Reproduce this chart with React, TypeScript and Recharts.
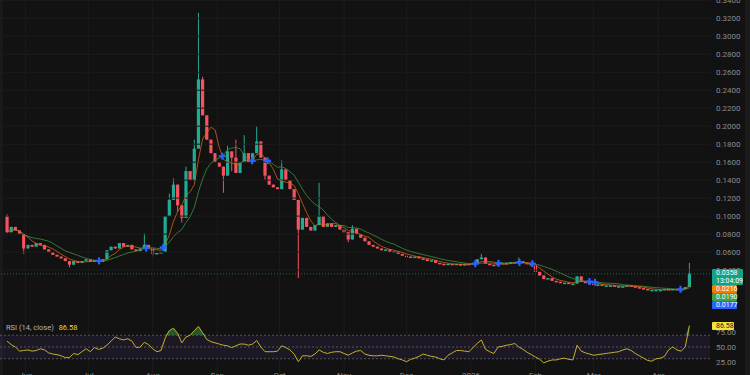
import React from 'react';
import { ComposedChart, Bar, Line, XAxis, YAxis, ReferenceLine, ReferenceArea, Area, Scatter } from 'recharts';

// ---- data ----
const monthDays = [10, 40, 71, 102, 132, 163, 193, 224, 255, 283, 314];
const monthLabels = ['Jun', 'Jul', 'Aug', 'Sep', 'Oct', 'Nov', 'Dec', '2026', 'Feb', 'Mar', 'Apr'];
const priceTicks = [0.04, 0.06, 0.08, 0.1, 0.12, 0.14, 0.16, 0.18, 0.2, 0.22, 0.24, 0.26, 0.28, 0.3, 0.32, 0.34];
const rsiTicks = [25, 50, 75];
const rsiLevels = [70, 50, 30];

const firstOpen = 0.1;
const closes = [
  0.082, 0.088, 0.084, 0.080, 0.064, 0.068, 0.066, 0.070, 0.068, 0.063,
  0.060, 0.057, 0.055, 0.053, 0.050, 0.046, 0.050, 0.048, 0.050, 0.052,
  0.049, 0.051, 0.049, 0.052, 0.062, 0.066, 0.064, 0.070, 0.066, 0.068,
  0.063, 0.061, 0.064, 0.068, 0.064, 0.058, 0.059, 0.060, 0.100, 0.118,
  0.135, 0.112, 0.098, 0.150, 0.140, 0.175, 0.252, 0.212, 0.185, 0.170,
  0.160, 0.155, 0.145, 0.172, 0.165, 0.148, 0.160, 0.170, 0.160, 0.170,
  0.183, 0.165, 0.145, 0.135, 0.132, 0.130, 0.152, 0.140, 0.130, 0.118,
  0.085, 0.098, 0.088, 0.084, 0.090, 0.100, 0.088, 0.092, 0.088, 0.090,
  0.085, 0.082, 0.074, 0.086, 0.080, 0.076, 0.072, 0.068, 0.066, 0.064,
  0.062, 0.063, 0.060, 0.061, 0.058, 0.056, 0.055, 0.054, 0.055, 0.053,
  0.052, 0.050, 0.051, 0.048, 0.047, 0.046, 0.047, 0.046, 0.047, 0.045,
  0.047, 0.046, 0.048, 0.052, 0.054, 0.047, 0.046, 0.045, 0.047, 0.048,
  0.047, 0.049, 0.048, 0.050, 0.048, 0.047, 0.045, 0.038, 0.034, 0.030,
  0.031, 0.028, 0.027, 0.026, 0.026, 0.025, 0.025, 0.033, 0.027, 0.026,
  0.025, 0.024, 0.024, 0.023, 0.023, 0.023, 0.022, 0.022, 0.022, 0.023,
  0.022, 0.021, 0.020, 0.019, 0.018, 0.018, 0.018, 0.018, 0.019, 0.018,
  0.019, 0.018, 0.019, 0.021, 0.0358,
];
const wickHighs: [number, number][] = [
  [0, 0.102], [33, 0.081], [39, 0.125], [40, 0.142], [43, 0.155], [45, 0.185], [46, 0.326],
  [47, 0.255], [48, 0.21], [53, 0.178], [55, 0.185], [57, 0.19], [60, 0.2], [66, 0.162],
  [75, 0.137], [83, 0.09], [114, 0.058], [123, 0.054], [164, 0.048],
];
const wickLows: [number, number][] = [
  [4, 0.058], [15, 0.043], [35, 0.055], [41, 0.105], [42, 0.093], [52, 0.126], [54, 0.15],
  [62, 0.14], [70, 0.031], [82, 0.071],
];
const rsiValues = [
  60, 54, 50, 43, 44, 45, 43, 44, 47, 45,
  40, 38, 37, 35, 32, 32, 39, 37, 42, 47,
  42, 49, 46, 48, 53, 60, 67, 64, 62, 64,
  60, 49, 50, 58, 54, 47, 42, 44, 65, 78,
  82, 73, 57, 67, 70, 78, 85, 74, 63, 59,
  57, 55, 53, 52, 49, 52, 55, 55, 53, 55,
  61, 50, 42, 42, 42, 43, 52, 49, 45, 38,
  25, 35, 35, 34, 38, 45, 41, 39, 41, 42,
  42, 39, 36, 40, 43, 44, 38, 36, 35, 35,
  36, 35, 34, 33, 30, 28, 25, 29, 31, 34,
  38, 36, 34, 33, 30, 28, 36, 40, 44, 44,
  43, 42, 49, 56, 62, 46, 42, 39, 50, 51,
  53, 54, 56, 50, 46, 41, 37, 33, 29, 23,
  26, 28, 28, 30, 31, 29, 28, 53, 43, 40,
  38, 36, 37, 38, 39, 40, 41, 42, 45, 47,
  44, 39, 35, 31, 27, 26, 30, 31, 34, 45,
  50, 45, 43, 50, 86.58,
];
const FAST = 5;
const SLOW = 11;

// ---- derived table ----
const highMap = new Map(wickHighs);
const lowMap = new Map(wickLows);
const sma = (i: number, n: number) => {
  const s = closes.slice(Math.max(0, i - n + 1), i + 1);
  return s.reduce((a, b) => a + b, 0) / s.length;
};
const data = closes.map((c, i) => {
  const open = i === 0 ? firstOpen : closes[i - 1];
  const high = Math.max(open, c, highMap.get(i) ?? 0);
  const low = Math.min(open, c, lowMap.get(i) ?? Infinity);
  return {
    day: 1 + 2 * i,
    open, close: c, high, low,
    range: [low, high],
    maFast: sma(i, FAST),
    maSlow: sma(i, SLOW),
    rsi: rsiValues[i],
    rsiUp: Math.max(rsiValues[i], 70),
  };
});
const crosses: { day: number; v: number }[] = [];
for (let i = 1; i < data.length; i++) {
  const d0 = data[i - 1].maFast - data[i - 1].maSlow;
  const d1 = data[i].maFast - data[i].maSlow;
  if (d0 * d1 < 0) {
    const t = d0 / (d0 - d1);
    crosses.push({
      day: data[i - 1].day + t * (data[i].day - data[i - 1].day),
      v: data[i - 1].maFast + t * (data[i].maFast - data[i - 1].maFast),
    });
  }
}
const lastClose = closes[closes.length - 1];

const UP = '#22ab94';
const DOWN = '#f7525f';
const BG = '#121212';
const GRID = '#1c1c1c';
const TXT = '#8b8b8b';
const FONT = 'Roboto, "DejaVu Sans", sans-serif';
const X_DOMAIN: [number, number] = [-2.4, 338.9];
const BODY_W = 3.2;

const Candle = (props: any) => {
  const { x, y, width, height, payload } = props;
  if (!payload || x == null || y == null) return null;
  const { open, close, high, low } = payload;
  const top = Math.min(y, y + height);
  const h = Math.abs(height);
  const rng = high - low;
  const pos = (v: number) => (rng > 0 ? top + ((high - v) / rng) * h : top);
  const color = close >= open ? UP : DOWN;
  const bTop = pos(Math.max(open, close));
  const bBot = pos(Math.min(open, close));
  const cx = x + (width || 0) / 2;
  return (
    <g>
      <line x1={cx} x2={cx} y1={top} y2={top + Math.max(h, 1)} stroke={color} strokeWidth={1} />
      <rect x={cx - BODY_W / 2} y={bTop} width={BODY_W} height={Math.max(1.5, bBot - bTop)} fill={color} />
    </g>
  );
};

const CrossMark = (props: any) => {
  const { cx, cy } = props;
  if (cx == null || cy == null) return null;
  return (
    <g stroke="#2962ff" strokeWidth={2.2}>
      <line x1={cx - 3.5} x2={cx + 3.5} y1={cy} y2={cy} />
      <line x1={cx} x2={cx} y1={cy - 3.5} y2={cy + 3.5} />
    </g>
  );
};

const PriceTick = (p: any) => (
  <text x={716} y={p.y + 3} fill={TXT} fontSize={8} fontFamily={FONT}>
    {Number(p.payload.value).toFixed(4)}
  </text>
);
const RsiTick = (p: any) => (
  <text x={716} y={p.y + 3} fill={TXT} fontSize={8} fontFamily={FONT}>
    {Number(p.payload.value).toFixed(2)}
  </text>
);
const MonthTick = (p: any) => {
  const idx = monthDays.indexOf(p.payload.value);
  return (
    <text x={p.x} y={60} fill={TXT} fontSize={8} fontFamily={FONT} textAnchor="middle">
      {monthLabels[idx] ?? ''}
    </text>
  );
};

const badge = (top: number, bg: string, color = '#fff', width = 25, height = 8): React.CSSProperties => ({
  position: 'absolute', left: 712, top, width, height, background: bg, color,
  fontFamily: FONT, fontSize: 7, lineHeight: `${height}px`, paddingLeft: 4, boxSizing: 'border-box',
  borderRadius: 1, whiteSpace: 'nowrap',
});

export default function App() {
  return (
    <div style={{ position: 'fixed', left: 0, top: 0, width: 750, height: 375, background: BG, overflow: 'hidden' }}>
      <div style={{ position: 'absolute', left: 0, top: 0, width: 3, height: 375, background: '#1a1a1a' }} />
      <div style={{ position: 'absolute', left: 745, top: 0, width: 5, height: 375, background: '#1a1a1a' }} />
      <div style={{ position: 'absolute', left: 0, top: 0 }}>
        <ComposedChart width={750} height={318} data={data} margin={{ top: 0, right: 0, bottom: 0, left: 0 }}>
          <XAxis dataKey="day" type="number" domain={X_DOMAIN} allowDataOverflow hide />
          <YAxis orientation="right" width={40} domain={[-0.0133, 0.3403]} allowDataOverflow ticks={priceTicks}
            interval={0} tick={PriceTick} axisLine={false} tickLine={false} />
          {priceTicks.map((t) => (
            <ReferenceLine key={'h' + t} y={t} stroke={GRID} strokeWidth={1} />
          ))}
          {monthDays.map((d) => (
            <ReferenceLine key={'v' + d} x={d} stroke={GRID} strokeWidth={1} />
          ))}
          <ReferenceLine y={lastClose} stroke={UP} strokeOpacity={0.6} strokeDasharray="1 2" />
          <Bar dataKey="range" barSize={3} shape={<Candle />} isAnimationActive={false} />
          <Line dataKey="maSlow" stroke="#3f8f44" strokeOpacity={0.8} strokeWidth={1} dot={false} activeDot={false} isAnimationActive={false} />
          <Line dataKey="maFast" stroke="#d9690c" strokeOpacity={0.75} strokeWidth={1} dot={false} activeDot={false} isAnimationActive={false} />
          <Scatter data={crosses} dataKey="v" shape={<CrossMark />} isAnimationActive={false} />
        </ComposedChart>
      </div>
      <div style={{ position: 'absolute', left: 0, top: 318 }}>
        <ComposedChart width={750} height={60} data={data} margin={{ top: 0, right: 0, bottom: 0, left: 0 }}>
          <XAxis dataKey="day" type="number" domain={X_DOMAIN} allowDataOverflow ticks={monthDays} interval={0}
            tick={MonthTick} axisLine={false} tickLine={false} height={4} />
          <YAxis orientation="right" width={40} domain={[4.1, 99.3]} allowDataOverflow ticks={rsiTicks} interval={0}
            tick={RsiTick} axisLine={false} tickLine={false} />
          {monthDays.map((d) => (
            <ReferenceLine key={'rv' + d} x={d} stroke={GRID} strokeWidth={1} />
          ))}
          <ReferenceArea y1={30} y2={70} fill="#7e57c2" fillOpacity={0.1} stroke="none" />
          {rsiLevels.map((l) => (
            <ReferenceLine key={'rl' + l} y={l} stroke="#787b86" strokeOpacity={0.6} strokeDasharray="2 2" />
          ))}
          <Area dataKey="rsiUp" baseValue={70} stroke="none" fill="#3c9a45" fillOpacity={0.5} activeDot={false} isAnimationActive={false} />
          <Line dataKey="rsi" stroke="#c2b12e" strokeWidth={1} dot={false} activeDot={false} isAnimationActive={false} />
        </ComposedChart>
      </div>
      <div style={{ position: 'absolute', left: 6, top: 323, fontFamily: FONT, fontSize: 7.5, color: '#b2b5be', whiteSpace: 'nowrap' }}>
        RSI (14, close) <span style={{ color: '#e6d434', marginLeft: 3 }}>86.58</span>
      </div>
      <div style={{ ...badge(269, '#16a085', '#fff', 31, 16), lineHeight: '8px' }}>
        0.0358<br />13:04:09
      </div>
      <div style={badge(285, '#f57c00')}>0.0216</div>
      <div style={badge(293, '#43a047')}>0.0190</div>
      <div style={badge(301, '#2962ff')}>0.0177</div>
      <div style={badge(322, '#f2e33a', '#222', 22, 8)}>86.58</div>
    </div>
  );
}
